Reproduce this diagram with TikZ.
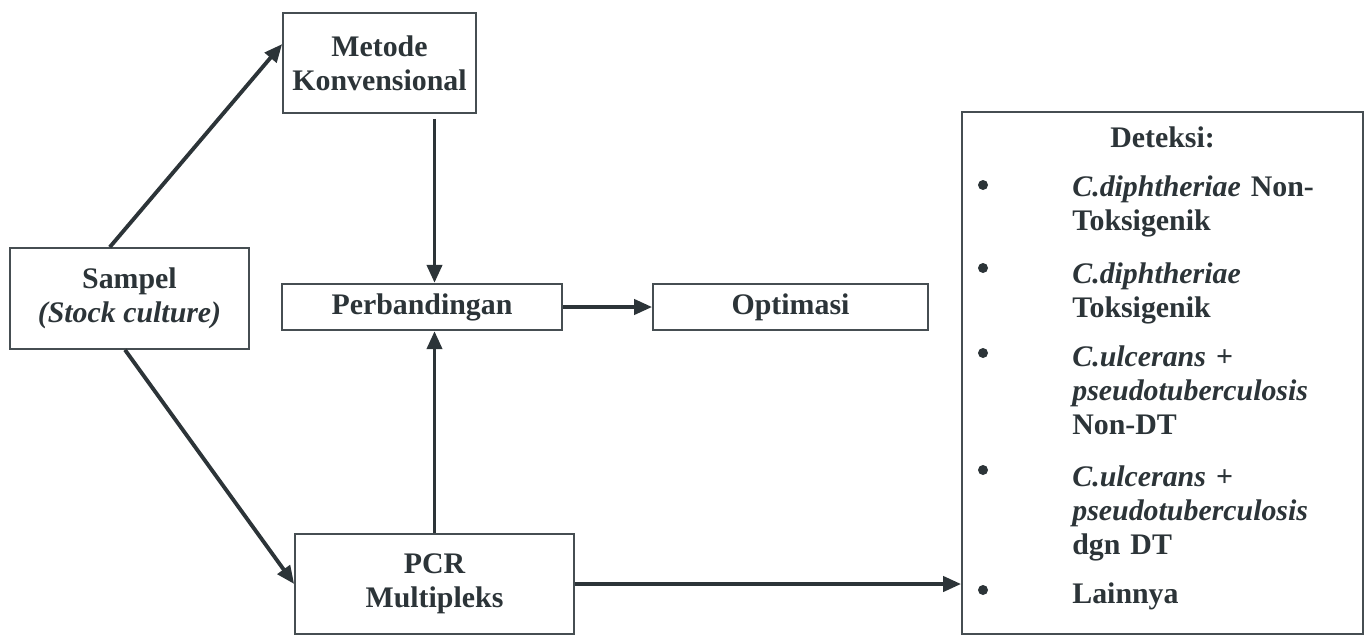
\documentclass[tikz,border=0pt]{standalone}
\usepackage{fontspec}
\setmainfont{Liberation Serif}
\usetikzlibrary{arrows.meta}
\definecolor{ink}{RGB}{44,52,56}
\definecolor{frame}{RGB}{70,78,82}

\begin{document}
\begin{tikzpicture}[x=0.02cm, y=-0.02cm,
  box/.style={draw=frame, line width=1pt, fill=white, align=center, inner sep=0pt, text=ink, font=\fontsize{17}{19.5}\selectfont\bfseries},
  txt/.style={inner sep=0pt, text=ink, font=\fontsize{17}{19.5}\selectfont\bfseries},
  item/.style={txt, anchor=base west, text width=6cm, align=left},
  dot/.style={circle, fill=ink, minimum size=0.2cm, inner sep=0pt},
  arr/.style={draw=ink, line width=2.2pt, -{Triangle[length=0.36cm, width=0.3cm]}}]
\useasboundingbox (0,0) rectangle (1365,636);
\node[box, minimum width=4.78cm, minimum height=2.02cm] (sampel) at (129.5,298.5) {Sampel\\\textit{(Stock culture)}};
\node[box, minimum width=3.86cm, minimum height=2cm] (metode) at (379.5,63) {Metode\\Konvensional};
\node[box, minimum width=5.6cm, minimum height=0.93cm] (perb) at (422,307) {Perbandingan};
\node[box, minimum width=5.5cm, minimum height=0.93cm] (opt) at (790.5,307) {Optimasi};
\node[box, minimum width=5.58cm, minimum height=2cm] (pcr) at (434.5,584) {PCR\\Multipleks};
\node[box, minimum width=8.02cm, minimum height=10.44cm] (det) at (1162.5,373) {};
\node[txt, anchor=base] (judul) at (1162.5,147) {Deteksi:};
\node[dot] (b1) at (983,185) {};
\node[dot] (b2) at (983,268) {};
\node[dot] (b3) at (983,353) {};
\node[dot] (b4) at (983,470) {};
\node[dot] (b5) at (983,590) {};
\node[item] (i1) at (1072,196) {\textit{C.diphtheriae} Non-\\Toksigenik};
\node[item] (i2) at (1072,283) {\textit{C.diphtheriae}\\Toksigenik};
\node[item] (i3) at (1072,366) {\textit{C.ulcerans +}\\\textit{pseudotuberculosis}\\Non-DT};
\node[item] (i4) at (1072,486) {\textit{C.ulcerans +}\\\textit{pseudotuberculosis}\\dgn DT};
\node[item] (i5) at (1072,603) {Lainnya};
\draw[arr] (sampel.111) -- (metode.169);
\draw[arr] (sampel.265) -- (pcr.west);
\draw[arr, shorten <=0.1cm] (metode.south -| pcr.north) -- (perb.north -| pcr.north);
\draw[arr] (pcr.north) -- (perb.south -| pcr.north);
\draw[arr] (perb.east) -- (opt.west);
\draw[arr] (pcr.east) -- (pcr.east -| det.west);
\end{tikzpicture}
\end{document}
